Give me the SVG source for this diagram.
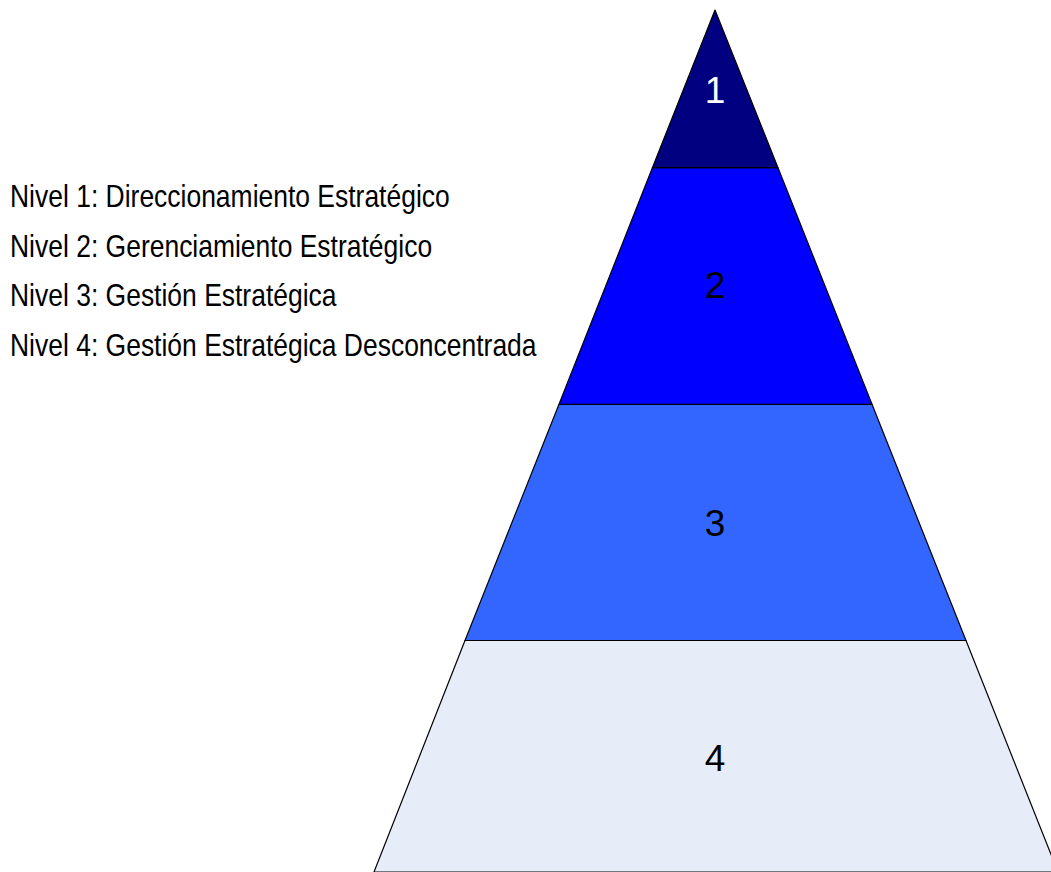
<svg xmlns="http://www.w3.org/2000/svg" width="1051" height="872" viewBox="0 0 1051 872">
<style>
.band{stroke:#000;stroke-width:1.2;stroke-linejoin:round}
.num{font-family:"Liberation Sans Narrow","Liberation Sans",Arial,sans-serif;font-size:37px;text-anchor:middle}
.lbl{font-family:"Liberation Sans",Arial,sans-serif;font-size:32px;fill:#000}
</style>
<rect width="1051" height="872" fill="#fff"/>
<g id="level4">
<polygon class="band" points="465,640.5 966,640.5 1058,872 374,872" fill="#e6edf8"/>
<text class="num" x="715" y="771" fill="#000">4</text>
</g>
<g id="level3">
<polygon class="band" points="559,404.3 872,404.3 966,640.5 465,640.5" fill="#3366ff"/>
<text class="num" x="715" y="536" fill="#000">3</text>
</g>
<g id="level2">
<polygon class="band" points="652.4,167.7 778,167.7 872,404.3 559,404.3" fill="#0000ff"/>
<text class="num" x="715" y="298" fill="#000">2</text>
</g>
<g id="level1">
<polygon class="band" points="715,10 778,167.7 652.4,167.7" fill="#000080"/>
<text class="num" x="715" y="103" fill="#fff">1</text>
</g>
<g id="legend" transform="scale(0.827 1)">
<text class="lbl" x="12.1" y="207">Nivel 1: Direccionamiento Estratégico</text>
<text class="lbl" x="12.1" y="257">Nivel 2: Gerenciamiento Estratégico</text>
<text class="lbl" x="12.1" y="306">Nivel 3: Gestión Estratégica</text>
<text class="lbl" x="12.1" y="356">Nivel 4: Gestión Estratégica Desconcentrada</text>
</g>
<g id="connectors"/>
</svg>
